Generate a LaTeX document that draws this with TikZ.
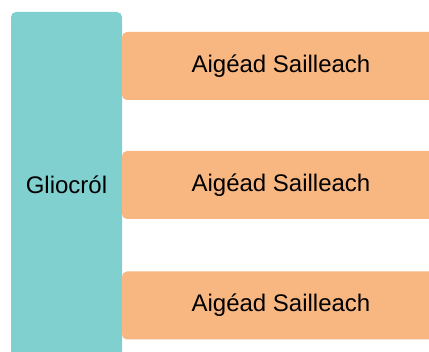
\documentclass[tikz,border=0pt]{standalone}
\usepackage{fontspec}
\setmainfont{Liberation Sans}
\definecolor{tealfill}{RGB}{128,208,208}
\definecolor{orangefill}{RGB}{248,182,128}
\tikzset{
  parentbox/.style={fill=tealfill, draw=none, rounded corners=5pt, inner sep=0pt,
    minimum width=111pt, minimum height=346pt, font=\fontsize{24}{27}\selectfont},
  childbox/.style={fill=orangefill, draw=none, rounded corners=5pt, inner sep=0pt,
    minimum width=318pt, minimum height=68pt, font=\fontsize{24}{27}\selectfont}
}
\begin{document}
\begin{tikzpicture}[x=1pt,y=-1pt]
\useasboundingbox (0,0) rectangle (429,352);
\clip (0,0) rectangle (429,352);
\node[parentbox] (p) at (66.5,185) {Gliocról};
\node[childbox] (c1) at (281,66) {Aigéad Sailleach};
\node[childbox] (c2) at (281,185) {Aigéad Sailleach};
\node[childbox] (c3) at (281,305.5) {Aigéad Sailleach};
\end{tikzpicture}
\end{document}
